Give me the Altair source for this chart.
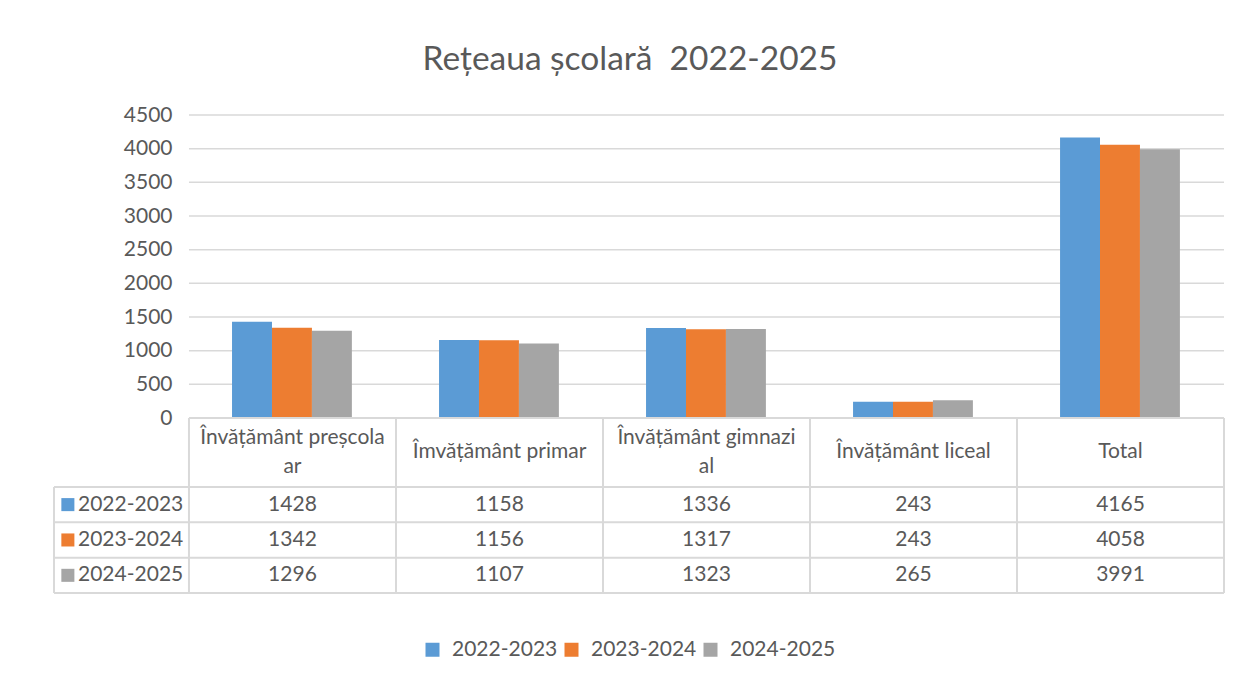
import altair as alt
import pandas as pd

# ---------------- data ----------------
title_text = "Rețeaua școlară\u00a0 2022-2025"
categories = ["Învățământ preșcola|ar", "Îmvățământ primar", "Învățământ gimnazi|al",
              "Învățământ liceal", "Total"]
series = ["2022-2023", "2023-2024", "2024-2025"]
colors = ["#5B9BD5", "#ED7D31", "#A5A5A5"]
values_2022_2023 = [1428, 1158, 1336, 243, 4165]
values_2023_2024 = [1342, 1156, 1317, 243, 4058]
values_2024_2025 = [1296, 1107, 1323, 265, 3991]
y_ticks = [0, 500, 1000, 1500, 2000, 2500, 3000, 3500, 4000, 4500]

# ---------------- layout constants ----------------
FONT = "Lato"
TXT = "#595959"
LINE = "#d9d9d9"
FS = 21
LEFT = -0.652          # table's label column, in column units
NCOL = len(categories)
GROUP_OFF = 0.208
BAR_W = 0.193
HEADER_H = 1.95
NROW = len(series)
TABLE_BOTTOM = HEADER_H + NROW
W = 1170
H_BARS = 303
H_TABLE = 175

all_values = [values_2022_2023, values_2023_2024, values_2024_2025]

rows = []
for s, (name, vals) in enumerate(zip(series, all_values)):
    for i, (cat, v) in enumerate(zip(categories, vals)):
        rows.append({"cat": cat, "ci": i, "series": name, "si": s, "value": v})
bars_df = pd.DataFrame(rows)

xscale = alt.Scale(domain=[LEFT, NCOL], nice=False, zero=False)
yscale = alt.Scale(domain=[0, 4500], nice=False)

yaxis = alt.Axis(values=y_ticks, offset=-135, grid=False, domain=False, ticks=False,
                 labelPadding=17, labelFontSize=FS, labelColor=TXT, labelFont=FONT,
                 format="d", title=None)

grid_df = pd.DataFrame({"v": [t for t in y_ticks if t > 0]})
grid_df["xa"] = 0
grid_df["xb"] = NCOL

grid = alt.Chart(grid_df).mark_rule(color=LINE, strokeWidth=1.5).encode(
    x=alt.X("xa:Q", scale=xscale, axis=None),
    x2="xb:Q",
    y=alt.Y("v:Q", scale=yscale, axis=yaxis),
)

bars = alt.Chart(bars_df).transform_calculate(
    xa=f"datum.ci + {GROUP_OFF} + datum.si * {BAR_W}",
    xb=f"datum.ci + {GROUP_OFF} + (datum.si + 1) * {BAR_W}",
).mark_rect().encode(
    x=alt.X("xa:Q", scale=xscale, axis=None),
    x2="xb:Q",
    y=alt.Y("value:Q", scale=yscale, axis=yaxis),
    y2=alt.datum(0),
    color=alt.Color("series:N", scale=alt.Scale(domain=series, range=colors),
                    legend=alt.Legend(orient="none", legendX=368, legendY=524,
                                      direction="horizontal", title=None,
                                      symbolType="square", symbolSize=196,
                                      symbolStrokeWidth=0, labelFontSize=FS,
                                      labelColor=TXT, labelFont=FONT,
                                      columnPadding=3, labelOffset=9, padding=0)),
)

bar_chart = alt.layer(grid, bars).properties(width=W, height=H_BARS)

# ---------------- table ----------------
tyscale = alt.Scale(domain=[0, TABLE_BOTTOM], reverse=True, nice=False, zero=False)

lines = []
for i in range(NCOL + 1):
    lines.append({"xa": i, "xb": i, "ya": 0, "yb": TABLE_BOTTOM})
lines.append({"xa": LEFT, "xb": LEFT, "ya": HEADER_H, "yb": TABLE_BOTTOM})
lines.append({"xa": 0, "xb": NCOL, "ya": 0, "yb": 0})
for r in range(NROW + 1):
    yv = HEADER_H + r
    lines.append({"xa": LEFT, "xb": NCOL, "ya": yv, "yb": yv})
lines_df = pd.DataFrame(lines)

table_lines = alt.Chart(lines_df).mark_rule(color=LINE, strokeWidth=2).encode(
    x=alt.X("xa:Q", scale=xscale, axis=None),
    x2="xb:Q",
    y=alt.Y("ya:Q", scale=tyscale, axis=None),
    y2="yb:Q",
)

header_df = pd.DataFrame({"cat": categories, "ci": list(range(NCOL))})
header = alt.Chart(header_df).transform_calculate(
    xc="datum.ci + 0.5",
    yc=f"{HEADER_H / 2} - (indexof(datum.cat, '|') >= 0 ? 0.41 : 0)",
).mark_text(font=FONT, fontSize=FS, color=TXT, lineBreak="|", lineHeight=29,
            baseline="middle", align="center").encode(
    x=alt.X("xc:Q", scale=xscale, axis=None),
    y=alt.Y("yc:Q", scale=tyscale, axis=None),
    text="cat:N",
)

cells = alt.Chart(bars_df).transform_calculate(
    xc="datum.ci + 0.5", yc=f"{HEADER_H} + datum.si + 0.5"
).mark_text(font=FONT, fontSize=FS, color=TXT, baseline="middle", align="center").encode(
    x=alt.X("xc:Q", scale=xscale, axis=None),
    y=alt.Y("yc:Q", scale=tyscale, axis=None),
    text="value:Q",
)

series_df = pd.DataFrame({"series": series, "si": list(range(NROW)), "col": colors})
series_labels = alt.Chart(series_df).transform_calculate(
    xc=f"{LEFT} + 0.116", yc=f"{HEADER_H} + datum.si + 0.5"
).mark_text(font=FONT, fontSize=FS, color=TXT, baseline="middle", align="left").encode(
    x=alt.X("xc:Q", scale=xscale, axis=None),
    y=alt.Y("yc:Q", scale=tyscale, axis=None),
    text="series:N",
)
series_marks = alt.Chart(series_df).transform_calculate(
    xc=f"{LEFT} + 0.067", yc=f"{HEADER_H} + datum.si + 0.5"
).mark_point(shape="square", filled=True, size=170, opacity=1).encode(
    x=alt.X("xc:Q", scale=xscale, axis=None),
    y=alt.Y("yc:Q", scale=tyscale, axis=None),
    color=alt.Color("col:N", scale=None),
)

table_chart = alt.layer(table_lines, header, cells, series_labels, series_marks).properties(
    width=W, height=H_TABLE)

chart = alt.vconcat(bar_chart, table_chart, spacing=0, bounds="flush").properties(
    title=alt.Title(title_text, font=FONT, fontSize=33.5, fontWeight="normal", color=TXT,
                    anchor="middle", dx=-9, offset=27),
    padding={"left": 45, "top": 34, "right": 10, "bottom": 5},
    background="white",
).resolve_scale(x="shared").configure_view(stroke=None, strokeWidth=0)

chart.save("out.html", embed_options={"renderer": "svg", "actions": False})
